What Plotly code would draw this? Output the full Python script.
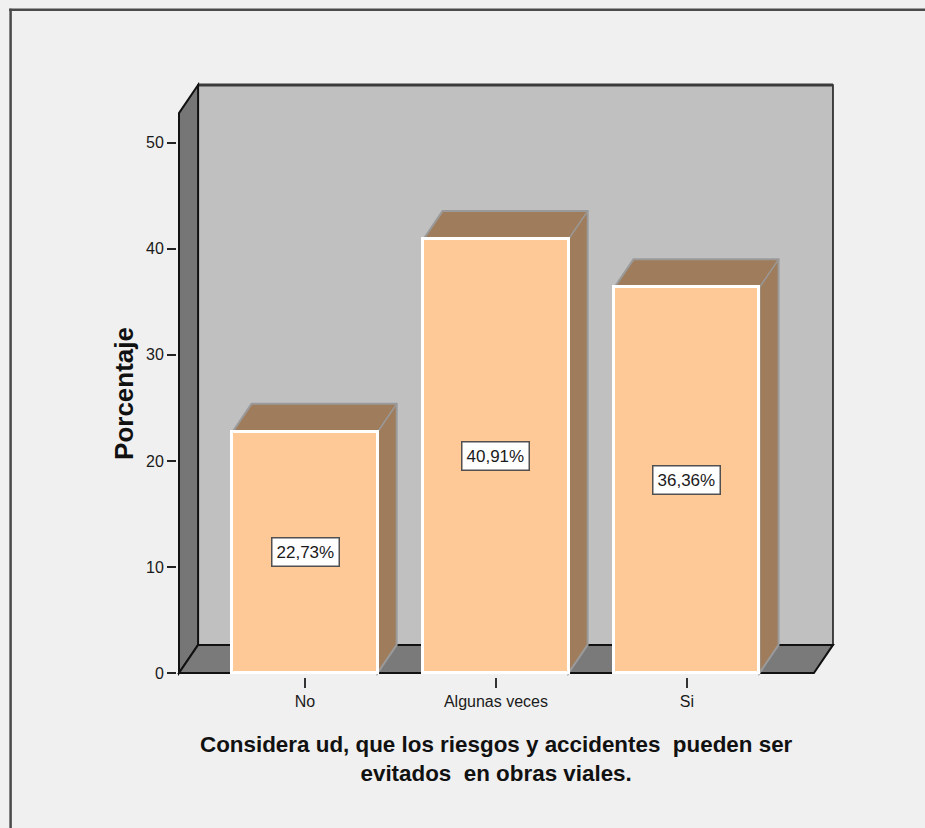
import plotly.graph_objects as go

# ---- data ----
categories = ["No", "Algunas veces", "Si"]
percentages = [22.73, 40.91, 36.36]
value_labels = ["22,73%", "40,91%", "36,36%"]
y_ticks = [0, 10, 20, 30, 40, 50]

x_title = "Considera ud, que los riesgos y accidentes  pueden ser<br>evitados  en obras viales."
y_title = "Porcentaje"

FONT = "Liberation Sans, Arial, sans-serif"

# ---- 3D frame geometry (axis units) ----
X_FRONT = (-0.66, 2.665)      # front edge of the floor along the category axis
Y_WALL_TOP = 52.8             # height of the left wall at the front
DX, DY = 0.1, 2.65            # depth offset of the back plane
BAR_W = 0.76

# pixel scale of the axes and where the origin sits on the page
W, H = 925, 828
PX_X, PX_Y = 191.0, 10.6
ORIGIN_PX = (305.0, 673.0)

x_range = [X_FRONT[0] - 2 / PX_X, X_FRONT[1] + DX + 12 / PX_X]
y_range = [-4 / PX_Y, Y_WALL_TOP + DY + 10 / PX_Y]

m_l = ORIGIN_PX[0] + x_range[0] * PX_X
m_r = W - (ORIGIN_PX[0] + x_range[1] * PX_X)
m_b = H - (ORIGIN_PX[1] - y_range[0] * PX_Y)
m_t = ORIGIN_PX[1] - y_range[1] * PX_Y
plot_w = W - m_l - m_r
plot_h = H - m_t - m_b


def paper_x(px):
    return (px - m_l) / plot_w


def paper_y(py):
    return (H - m_b - py) / plot_h


def poly(pts):
    return "M " + " L ".join(f"{x},{y}" for x, y in pts) + " Z"


BLACK = "#111111"
shapes = []

# back wall
x0, x1 = X_FRONT
shapes.append(dict(type="path", layer="below", xref="x", yref="y",
                   path=poly([(x0 + DX, DY), (x1 + DX, DY),
                              (x1 + DX, Y_WALL_TOP + DY), (x0 + DX, Y_WALL_TOP + DY)]),
                   fillcolor="#c0c0c0", line=dict(color=BLACK, width=1.5)))
shapes.append(dict(type="line", layer="below", xref="x", yref="y",
                   x0=x0 + DX, x1=x1 + DX, y0=Y_WALL_TOP + DY, y1=Y_WALL_TOP + DY,
                   line=dict(color="#3a3a3a", width=3)))
# left wall
shapes.append(dict(type="path", layer="below", xref="x", yref="y",
                   path=poly([(x0, 0), (x0, Y_WALL_TOP), (x0 + DX, Y_WALL_TOP + DY), (x0 + DX, DY)]),
                   fillcolor="#767676", line=dict(color=BLACK, width=2)))
# floor
shapes.append(dict(type="path", layer="below", xref="x", yref="y",
                   path=poly([(x0, 0), (x1, 0), (x1 + DX, DY), (x0 + DX, DY)]),
                   fillcolor="#7a7a7a", line=dict(color=BLACK, width=2)))

# top and side faces of each bar
for i, v in enumerate(percentages):
    l, r = i - BAR_W / 2, i + BAR_W / 2
    shapes.append(dict(type="path", layer="below", xref="x", yref="y",
                       path=poly([(l, v), (l + DX, v + DY), (r + DX, v + DY),
                                  (r + DX, DY), (r, 0), (r, v)]),
                       fillcolor="#9f7c5b", line=dict(color="#9a9a9a", width=2)))
    shapes.append(dict(type="line", layer="below", xref="x", yref="y",
                       x0=r, y0=v, x1=r + DX, y1=v + DY,
                       line=dict(color="#9a9a9a", width=1.5)))

# outer frame of the chart window
shapes.append(dict(type="line", xref="paper", yref="paper",
                   x0=paper_x(9), x1=paper_x(926), y0=paper_y(10), y1=paper_y(10),
                   line=dict(color="#4a4a4a", width=2.5)))
shapes.append(dict(type="line", xref="paper", yref="paper",
                   x0=paper_x(10.5), x1=paper_x(10.5), y0=paper_y(9), y1=paper_y(830),
                   line=dict(color="#4a4a4a", width=2.5)))

fig = go.Figure()
fig.add_trace(go.Bar(
    x=categories, y=percentages, width=BAR_W,
    marker=dict(color="#ffc997", line=dict(color="white", width=3)),
    hoverinfo="skip",
))

annotations = []
for c, v, t in zip(categories, percentages, value_labels):
    annotations.append(dict(
        x=c, y=v / 2, xref="x", yref="y", text=t, showarrow=False,
        xanchor="center", yanchor="middle",
        font=dict(family=FONT, size=17, color="#1a1a1a"),
        bgcolor="white", bordercolor="#505050", borderwidth=1.5, borderpad=4,
    ))

annotations.append(dict(
    x=paper_x(497), y=paper_y(759), xref="paper", yref="paper",
    xanchor="center", yanchor="middle",
    text=f"<b>{x_title}</b>", showarrow=False, align="center",
    font=dict(family=FONT, size=22.4, color="#111111"),
))
annotations.append(dict(
    x=paper_x(124), y=paper_y(394), xref="paper", yref="paper",
    xanchor="center", yanchor="middle",
    text=f"<b>{y_title}</b>", showarrow=False, textangle=-90,
    font=dict(family=FONT, size=26, color="#111111"),
))

fig.update_layout(
    width=W, height=H, autosize=False,
    margin=dict(l=m_l, r=m_r, t=m_t, b=m_b, pad=0),
    paper_bgcolor="#f0f0f0", plot_bgcolor="rgba(0,0,0,0)",
    showlegend=False, shapes=shapes, annotations=annotations, bargap=0,
    xaxis=dict(range=x_range, showgrid=False, zeroline=False, showline=False,
               ticks="outside", ticklen=10, tickwidth=1.5, tickcolor="#333333",
               tickfont=dict(family=FONT, size=16, color="#1a1a1a"),
               fixedrange=True),
    yaxis=dict(range=y_range, tickvals=y_ticks, showgrid=False, zeroline=False,
               showline=False, ticks="outside", ticklen=9, tickwidth=1.5,
               tickcolor="#222222",
               tickfont=dict(family=FONT, size=16, color="#1a1a1a"),
               fixedrange=True),
)

fig.write_html("out.html")
